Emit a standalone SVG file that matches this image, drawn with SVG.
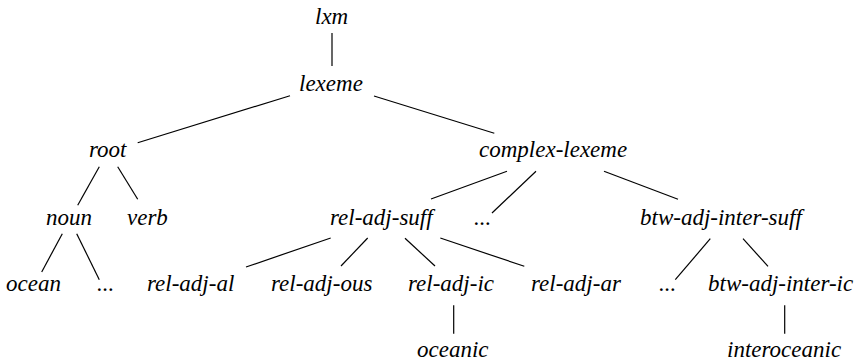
<svg xmlns="http://www.w3.org/2000/svg" width="864" height="364" viewBox="0 0 864 364">
<rect width="864" height="364" fill="#fff"/>
<g id="connectors" stroke="#000" stroke-width="1.2">
<line x1="332" y1="33" x2="332" y2="66"/>
<line x1="290" y1="95.7" x2="137.7" y2="142.7"/>
<line x1="374" y1="96" x2="494.3" y2="133.3"/>
<line x1="99.3" y1="166.7" x2="77.7" y2="205.3"/>
<line x1="117.7" y1="166.7" x2="137.7" y2="199.3"/>
<line x1="507" y1="171.3" x2="431" y2="199"/>
<line x1="536" y1="171.3" x2="492" y2="213"/>
<line x1="604" y1="171.3" x2="678" y2="199.3"/>
<line x1="62.3" y1="233.7" x2="41.7" y2="272"/>
<line x1="76.7" y1="233.7" x2="99.3" y2="279.7"/>
<line x1="330.7" y1="238" x2="246" y2="267"/>
<line x1="367.7" y1="238" x2="341" y2="266"/>
<line x1="405" y1="238.3" x2="435" y2="266"/>
<line x1="440.3" y1="238" x2="524.3" y2="266.3"/>
<line x1="710.3" y1="238.7" x2="675.3" y2="279.7"/>
<line x1="743" y1="238.7" x2="768" y2="266.3"/>
<line x1="453.7" y1="305.3" x2="453.7" y2="333.7"/>
<line x1="784.7" y1="305.3" x2="784.7" y2="333.7"/>
</g>
<text id="n-lxm" x="315" y="24" font-family="Liberation Serif" font-style="italic" font-size="23">lxm</text>
<text id="n-lexeme" x="299" y="91" font-family="Liberation Serif" font-style="italic" font-size="23">lexeme</text>
<text id="n-root" x="89" y="157" font-family="Liberation Serif" font-style="italic" font-size="23">root</text>
<text id="n-complex-lexeme" x="479" y="157" font-family="Liberation Serif" font-style="italic" font-size="23">complex-lexeme</text>
<text id="n-noun" x="46" y="225" font-family="Liberation Serif" font-style="italic" font-size="23">noun</text>
<text id="n-verb" x="127" y="225" font-family="Liberation Serif" font-style="italic" font-size="23">verb</text>
<text id="n-rel-adj-suff" x="330" y="225" font-family="Liberation Serif" font-style="italic" font-size="23">rel-adj-suff</text>
<text id="n-dots1" x="474" y="225" font-family="Liberation Serif" font-style="italic" font-size="23">...</text>
<text id="n-btw-adj-inter-suff" x="640" y="225" font-family="Liberation Serif" font-style="italic" font-size="23">btw-adj-inter-suff</text>
<text id="n-ocean" x="6" y="291" font-family="Liberation Serif" font-style="italic" font-size="23">ocean</text>
<text id="n-dots2" x="97" y="291" font-family="Liberation Serif" font-style="italic" font-size="23">...</text>
<text id="n-rel-adj-al" x="147" y="291" font-family="Liberation Serif" font-style="italic" font-size="23">rel-adj-al</text>
<text id="n-rel-adj-ous" x="271" y="291" font-family="Liberation Serif" font-style="italic" font-size="23">rel-adj-ous</text>
<text id="n-rel-adj-ic" x="408" y="291" font-family="Liberation Serif" font-style="italic" font-size="23">rel-adj-ic</text>
<text id="n-rel-adj-ar" x="531" y="291" font-family="Liberation Serif" font-style="italic" font-size="23">rel-adj-ar</text>
<text id="n-dots3" x="659" y="291" font-family="Liberation Serif" font-style="italic" font-size="23">...</text>
<text id="n-btw-adj-inter-ic" x="708" y="291" font-family="Liberation Serif" font-style="italic" font-size="23">btw-adj-inter-ic</text>
<text id="n-oceanic" x="417" y="357" font-family="Liberation Serif" font-style="italic" font-size="23">oceanic</text>
<text id="n-interoceanic" x="727" y="357" font-family="Liberation Serif" font-style="italic" font-size="23">interoceanic</text>
</svg>
